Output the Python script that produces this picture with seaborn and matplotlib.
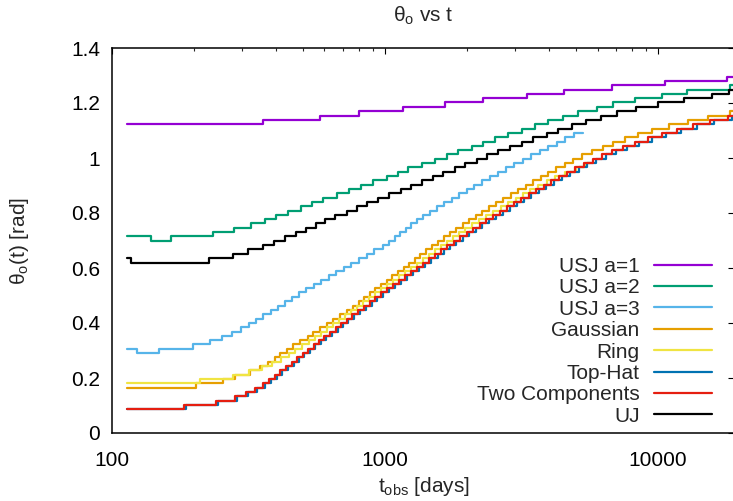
import numpy as np
import matplotlib
matplotlib.use("Agg")
import matplotlib.pyplot as plt
import seaborn as sns
from matplotlib.ticker import NullLocator, NullFormatter, FixedLocator, FixedFormatter, LogLocator

# ---- data (log10 of t_obs in days, theta_o in rad), step functions ----
names = ["USJ a=1", "USJ a=2", "USJ a=3", "Gaussian", "Ring", "Top-Hat", "Two Components", "UJ"]
colors = ["#9400D3", "#009E73", "#56B4E9", "#E69F00", "#F0E442", "#0072B2", "#E51E10", "#000000"]

logt_usj1 = [2.055, 2.553, 2.762, 2.905, 3.066, 3.220, 3.359, 3.520, 3.656, 3.832, 4.026, 4.253, 4.30]
theta_usj1 = [1.123, 1.139, 1.154, 1.170, 1.186, 1.202, 1.217, 1.233, 1.249, 1.264, 1.280, 1.296, 1.296]

logt_usj2 = [2.055, 2.142, 2.215, 2.369, 2.448, 2.508, 2.559, 2.601, 2.645, 2.691, 2.733, 2.774, 2.825,
             2.869, 2.912, 2.957, 3.006, 3.047, 3.084, 3.134, 3.183, 3.226, 3.269, 3.318, 3.360, 3.403,
             3.452, 3.501, 3.549, 3.598, 3.653, 3.708, 3.775, 3.836, 3.916, 4.014, 4.105, 4.264, 4.30]
theta_usj2 = [0.715, 0.699, 0.715, 0.730, 0.746, 0.762, 0.778, 0.793, 0.809, 0.825, 0.840, 0.856, 0.872,
              0.888, 0.903, 0.919, 0.935, 0.950, 0.966, 0.982, 0.997, 1.013, 1.029, 1.045, 1.060, 1.076,
              1.092, 1.107, 1.123, 1.139, 1.154, 1.170, 1.186, 1.202, 1.217, 1.233, 1.249, 1.264, 1.264]

logt_usj3 = [2.055, 2.090, 2.173, 2.297, 2.359, 2.403, 2.440, 2.473, 2.502, 2.529, 2.553, 2.582, 2.608,
             2.634, 2.659, 2.685, 2.711, 2.740, 2.766, 2.795, 2.821, 2.850, 2.875, 2.905, 2.933, 2.960,
             2.991, 3.013, 3.035, 3.055, 3.075, 3.095, 3.117, 3.139, 3.165, 3.190, 3.216, 3.244, 3.271,
             3.299, 3.326, 3.355, 3.385, 3.414, 3.443, 3.473, 3.504, 3.535, 3.566, 3.597, 3.628, 3.659,
             3.692, 3.725]
theta_usj3 = [0.306, 0.291, 0.306, 0.322, 0.338, 0.353, 0.369, 0.385, 0.401, 0.416, 0.432, 0.448, 0.463,
              0.479, 0.495, 0.511, 0.526, 0.542, 0.558, 0.573, 0.589, 0.605, 0.620, 0.636, 0.652, 0.668,
              0.683, 0.699, 0.715, 0.730, 0.746, 0.762, 0.778, 0.793, 0.809, 0.825, 0.840, 0.856, 0.872,
              0.888, 0.903, 0.919, 0.935, 0.950, 0.966, 0.982, 0.997, 1.013, 1.029, 1.045, 1.060, 1.076,
              1.092, 1.092]

logt_gauss = [2.055, 2.308, 2.407, 2.451, 2.505, 2.542, 2.571, 2.597, 2.617, 2.641, 2.663, 2.689, 2.718,
              2.736, 2.762, 2.788, 2.810, 2.835, 2.861, 2.881, 2.903, 2.923, 2.945, 2.965, 2.985, 3.007,
              3.027, 3.048, 3.068, 3.088, 3.108, 3.128, 3.150, 3.172, 3.194, 3.216, 3.238, 3.260, 3.284,
              3.308, 3.332, 3.355, 3.381, 3.407, 3.432, 3.460, 3.487, 3.515, 3.542, 3.570, 3.597, 3.626,
              3.658, 3.689, 3.723, 3.758, 3.797, 3.835, 3.879, 3.927, 3.978, 4.040, 4.110, 4.183, 4.264, 4.30]
theta_gauss = [0.165, 0.181, 0.196, 0.212, 0.228, 0.243, 0.259, 0.275, 0.291, 0.306, 0.322, 0.338, 0.353,
               0.369, 0.385, 0.401, 0.416, 0.432, 0.448, 0.463, 0.479, 0.495, 0.511, 0.526, 0.542, 0.558,
               0.573, 0.589, 0.605, 0.620, 0.636, 0.652, 0.668, 0.683, 0.699, 0.715, 0.730, 0.746, 0.762,
               0.778, 0.793, 0.809, 0.825, 0.840, 0.856, 0.872, 0.888, 0.903, 0.919, 0.935, 0.950, 0.966,
               0.982, 0.997, 1.013, 1.029, 1.045, 1.060, 1.076, 1.092, 1.107, 1.123, 1.139, 1.154, 1.170, 1.170]

logt_ring = [2.055, 2.322, 2.443, 2.502, 2.549, 2.586, 2.619, 2.647, 2.672, 2.696, 2.720, 2.744, 2.766,
             2.788, 2.810, 2.832, 2.853, 2.875, 2.897, 2.919, 2.941, 2.963, 2.985, 3.007, 3.029, 3.051,
             3.073, 3.095, 3.117, 3.139, 3.161, 3.183, 3.205, 3.227, 3.249, 3.271, 3.293, 3.319, 3.344,
             3.370, 3.396, 3.423, 3.451, 3.478, 3.505, 3.531, 3.560, 3.592, 3.623, 3.659, 3.698, 3.733, 3.751]
theta_ring = [0.181, 0.196, 0.212, 0.228, 0.243, 0.259, 0.275, 0.291, 0.306, 0.322, 0.338, 0.353, 0.369,
              0.385, 0.401, 0.416, 0.432, 0.448, 0.463, 0.479, 0.495, 0.511, 0.526, 0.542, 0.558, 0.573,
              0.589, 0.605, 0.620, 0.636, 0.652, 0.668, 0.683, 0.699, 0.715, 0.730, 0.746, 0.762, 0.778,
              0.793, 0.809, 0.825, 0.840, 0.856, 0.872, 0.888, 0.903, 0.919, 0.935, 0.950, 0.966, 0.982, 0.982]

logt_tophat = [2.055, 2.271, 2.388, 2.458, 2.498, 2.531, 2.560, 2.582, 2.604, 2.624, 2.644, 2.665, 2.685,
               2.705, 2.725, 2.745, 2.765, 2.785, 2.806, 2.826, 2.846, 2.866, 2.886, 2.908, 2.930, 2.952,
               2.972, 2.992, 3.014, 3.036, 3.058, 3.080, 3.102, 3.124, 3.146, 3.168, 3.193, 3.215, 3.237,
               3.261, 3.285, 3.309, 3.332, 3.356, 3.380, 3.406, 3.431, 3.457, 3.483, 3.508, 3.536, 3.563,
               3.591, 3.618, 3.647, 3.677, 3.710, 3.741, 3.774, 3.809, 3.846, 3.886, 3.930, 3.977, 4.029,
               4.084, 4.142, 4.204, 4.270, 4.30]
theta_tophat = [0.086, 0.102, 0.118, 0.134, 0.149, 0.165, 0.181, 0.196, 0.212, 0.228, 0.243, 0.259, 0.275,
                0.291, 0.306, 0.322, 0.338, 0.353, 0.369, 0.385, 0.401, 0.416, 0.432, 0.448, 0.463, 0.479,
                0.495, 0.511, 0.526, 0.542, 0.558, 0.573, 0.589, 0.605, 0.620, 0.636, 0.652, 0.668, 0.683,
                0.699, 0.715, 0.730, 0.746, 0.762, 0.778, 0.793, 0.809, 0.825, 0.840, 0.856, 0.872, 0.888,
                0.903, 0.919, 0.935, 0.950, 0.966, 0.982, 0.997, 1.013, 1.029, 1.045, 1.060, 1.076, 1.092,
                1.107, 1.123, 1.139, 1.154, 1.154]

logt_twocomp = [2.055, 2.264, 2.381, 2.451, 2.491, 2.524, 2.553, 2.575, 2.597, 2.617, 2.637, 2.658, 2.678,
                2.698, 2.718, 2.738, 2.758, 2.778, 2.799, 2.819, 2.839, 2.859, 2.879, 2.901, 2.923, 2.945,
                2.965, 2.985, 3.007, 3.029, 3.051, 3.073, 3.095, 3.117, 3.139, 3.161, 3.183, 3.205, 3.227,
                3.251, 3.275, 3.299, 3.322, 3.346, 3.370, 3.396, 3.421, 3.447, 3.473, 3.498, 3.526, 3.553,
                3.581, 3.608, 3.637, 3.667, 3.696, 3.727, 3.760, 3.795, 3.832, 3.872, 3.916, 3.963, 4.015,
                4.070, 4.128, 4.190, 4.256, 4.30]
theta_twocomp = [0.086, 0.102, 0.118, 0.134, 0.149, 0.165, 0.181, 0.196, 0.212, 0.228, 0.243, 0.259, 0.275,
                 0.291, 0.306, 0.322, 0.338, 0.353, 0.369, 0.385, 0.401, 0.416, 0.432, 0.448, 0.463, 0.479,
                 0.495, 0.511, 0.526, 0.542, 0.558, 0.573, 0.589, 0.605, 0.620, 0.636, 0.652, 0.668, 0.683,
                 0.699, 0.715, 0.730, 0.746, 0.762, 0.778, 0.793, 0.809, 0.825, 0.840, 0.856, 0.872, 0.888,
                 0.903, 0.919, 0.935, 0.950, 0.966, 0.982, 0.997, 1.013, 1.029, 1.045, 1.060, 1.076, 1.092,
                 1.107, 1.123, 1.139, 1.154, 1.154]

logt_uj = [2.055, 2.068, 2.356, 2.442, 2.499, 2.552, 2.593, 2.634, 2.674, 2.710, 2.747, 2.781, 2.818,
           2.860, 2.896, 2.935, 2.974, 3.016, 3.058, 3.095, 3.134, 3.177, 3.214, 3.256, 3.293, 3.336,
           3.373, 3.415, 3.458, 3.501, 3.543, 3.592, 3.634, 3.685, 3.736, 3.791, 3.850, 3.919, 4.000,
           4.095, 4.198, 4.260, 4.30]
theta_uj = [0.636, 0.620, 0.636, 0.652, 0.668, 0.683, 0.699, 0.715, 0.730, 0.746, 0.762, 0.778, 0.793,
            0.809, 0.825, 0.840, 0.856, 0.872, 0.888, 0.903, 0.919, 0.935, 0.950, 0.966, 0.982, 0.997,
            1.013, 1.029, 1.045, 1.060, 1.076, 1.092, 1.107, 1.123, 1.139, 1.154, 1.170, 1.186, 1.202,
            1.217, 1.233, 1.249, 1.249]

xticks = [100, 1000, 10000]
xtick_labels = ["100", "1000", "10000"]
yticks = [0, 0.2, 0.4, 0.6, 0.8, 1.0, 1.2, 1.4]
ytick_labels = ["0", "0.2", "0.4", "0.6", "0.8", "1", "1.2", "1.4"]

series_logt = [logt_usj1, logt_usj2, logt_usj3, logt_gauss, logt_ring, logt_tophat, logt_twocomp, logt_uj]
series_theta = [theta_usj1, theta_usj2, theta_usj3, theta_gauss, theta_ring, theta_tophat, theta_twocomp, theta_uj]

# ---- style ----
sns.set_theme(style="white")
plt.rcParams["font.family"] = ["Liberation Sans", "DejaVu Sans"]
plt.rcParams["mathtext.fontset"] = "custom"
plt.rcParams["mathtext.rm"] = "Liberation Sans"
plt.rcParams["mathtext.it"] = "Liberation Sans:italic"
plt.rcParams["axes.unicode_minus"] = False
FS = 15

fig = plt.figure(figsize=(7.33, 5.01), dpi=100)
W, H = 733.0, 501.0
ax = fig.add_axes([112 / W, (H - 433) / H, 622 / W, 385 / H])
ax.set_facecolor("white")

for name, col, lt, th in zip(names, colors, series_logt, series_theta):
    t = np.power(10.0, np.asarray(lt))
    sns.lineplot(x=t, y=np.asarray(th), ax=ax, color=col, lw=1.6, label=name,
                 drawstyle="steps-post", sort=False, estimator=None)

ax.set_xscale("log")
ax.set_xlim(100, 10 ** 4.278)
ax.set_ylim(0, 1.4)

ax.xaxis.set_major_locator(FixedLocator(xticks))
ax.xaxis.set_major_formatter(FixedFormatter(xtick_labels))
ax.xaxis.set_minor_locator(LogLocator(base=10, subs=np.arange(2, 10)))
ax.xaxis.set_minor_formatter(NullFormatter())
ax.yaxis.set_major_locator(FixedLocator(yticks))
ax.yaxis.set_major_formatter(FixedFormatter(ytick_labels))
ax.yaxis.set_minor_locator(NullLocator())

ax.tick_params(which="major", direction="in", length=4.5, width=0.8, top=True, right=True,
               labelsize=FS, colors="black")
ax.tick_params(which="minor", direction="in", length=2.5, width=0.8, top=True, right=True)
ax.tick_params(axis="y", pad=8.5)
ax.tick_params(axis="x", pad=13)
for s in ax.spines.values():
    s.set_visible(True)
    s.set_color("black")
    s.set_linewidth(1.1)
ax.grid(False)

ax.set_xlabel("")
ax.set_ylabel("")
fig.text(423 / W, 1 - 16 / H, r"θ$_\mathrm{o}$ vs t", ha="center", va="center", fontsize=FS)
fig.text(424 / W, 1 - 487 / H, r"t$_\mathrm{obs}$ [days]", ha="center", va="center", fontsize=FS)
fig.text(20 / W, 1 - 241 / H, r"θ$_\mathrm{o}$(t) [rad]", ha="center", va="center",
         rotation=90, fontsize=FS)

leg = ax.legend(loc="upper right", bbox_to_anchor=((712 - 112) / 622, (433 - 257) / 385),
                frameon=False, markerfirst=False, fontsize=FS, handlelength=2.8,
                handletextpad=0.67, labelspacing=0.115, borderpad=0, borderaxespad=0)
for line in leg.get_lines():
    line.set_linewidth(1.6)

fig.savefig("out.png", dpi=100)
